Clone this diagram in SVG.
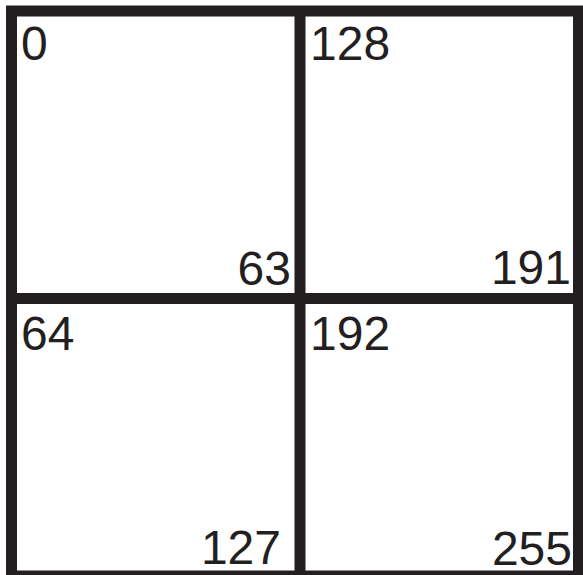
<svg xmlns="http://www.w3.org/2000/svg" width="583" height="575" viewBox="0 0 583 575">
<style>
.frame{fill:none;stroke:#231f20;stroke-width:11}
.div{stroke:#231f20;stroke-width:11}
text{font-family:"Liberation Sans",Arial,sans-serif;font-size:48px;fill:#231f20}
.e{text-anchor:end}
</style>
<rect width="583" height="575" fill="#ffffff"/>
<g id="frame">
<rect class="frame" x="11.5" y="11" width="567" height="565"/>
</g>
<g id="connectors">
<line class="div" x1="300" y1="11" x2="300" y2="576"/>
<line class="div" x1="11.5" y1="298.5" x2="578.5" y2="298.5"/>
</g>
<g id="cell-0">
<text x="21" y="60">0</text>
<text class="e" x="291" y="285">63</text>
</g>
<g id="cell-128">
<text x="310" y="60">128</text>
<text class="e" x="571" y="284">191</text>
</g>
<g id="cell-64">
<text x="21" y="350">64</text>
<text class="e" x="281" y="564">127</text>
</g>
<g id="cell-192">
<text x="310" y="350">192</text>
<text class="e" x="572" y="565">255</text>
</g>
</svg>
